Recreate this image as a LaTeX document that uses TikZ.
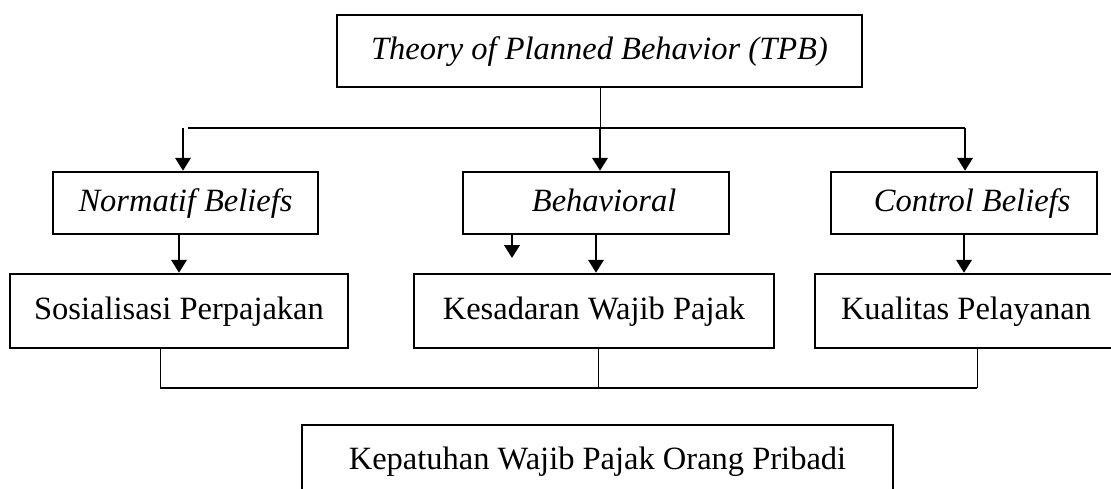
\documentclass[tikz,border=0pt]{standalone}
\usepackage{fontspec}
\setmainfont{Liberation Serif}
\usetikzlibrary{arrows.meta}

\tikzset{
  box/.style={draw, line width=1pt, inner sep=0pt, minimum height=24.8pt, text height=9.2pt, text depth=2.8pt, font=\fontsize{13}{15}\selectfont},
  bigbox/.style={box, minimum height=29.6pt},
  arr/.style={line width=0.95pt, -{Triangle[length=5.2pt,width=6.2pt]}},
  link/.style={line width=0.4pt}
}

\begin{document}
\begin{tikzpicture}[x=0.4pt,y=-0.4pt]
\useasboundingbox (0,0) rectangle (1111,488);
\clip (0,0) rectangle (1111,488);

\node [bigbox, minimum width=210pt, minimum height=28.8pt] (tpb) at (599.5,51) {\itshape Theory of Planned Behavior (TPB)};

\node [box, minimum width=106pt] (norm) at (185.5,203) {\itshape Normatif Beliefs};
\node [box, minimum width=106.4pt] (behav) at (596,203) {\itshape \ \ Behavioral};
\node [box, minimum width=106.4pt] (ctrl) at (964,203) {\itshape \ \ Control Beliefs};

\node [bigbox, minimum width=135.2pt] (sos) at (179,311) {Sosialisasi Perpajakan};
\node [bigbox, minimum width=144pt] (kes) at (594,311) {Kesadaran Wajib Pajak};
\node [bigbox, minimum width=120.8pt] (kual) at (966,311) {Kualitas Pelayanan};

\node [bigbox, minimum width=236.4pt, minimum height=28.8pt] (kep) at (597.5,461) {Kepatuhan Wajib Pajak Orang Pribadi};

\coordinate (jn) at (183,128);
\coordinate (jl) at (188,128);
\coordinate (jb) at (600,128);
\coordinate (jc) at (965,128);
\draw [link] (tpb.south -| jb) -- (jb);
\draw [line width=0.55pt] (jl) -- (jc);
\draw [arr] (jn) -- (jn |- norm.north);
\draw [arr] (jb) -- (jb |- behav.north);
\draw [arr] (jc) -- (jc |- ctrl.north);

\coordinate (stray) at (512,258);
\draw [arr] (norm.south -| sos.north) -- (sos.north);
\draw [arr] (behav.south) -- (behav.south |- kes.north);
\draw [arr] (stray |- behav.south) -- (stray);
\draw [arr] (ctrl.south) -- (ctrl.south |- kual.north);

\coordinate (bl) at (160,388);
\coordinate (bm) at (598,388);
\coordinate (br) at (977,388);
\draw [link] (bl |- sos.south) -- (bl);
\draw [link] (bm |- kes.south) -- (bm);
\draw [link] (br |- kual.south) -- (br);
\draw [line width=0.7pt] (bl) -- (br);
\end{tikzpicture}
\end{document}
